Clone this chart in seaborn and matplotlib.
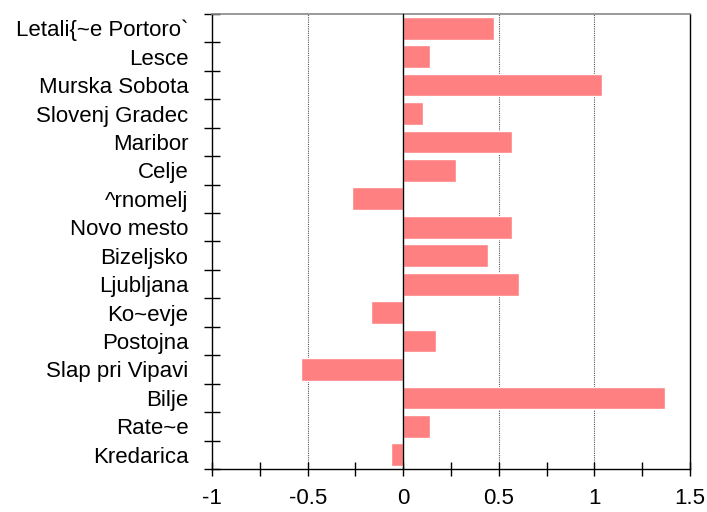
import numpy as np
import pandas as pd
import matplotlib
matplotlib.use('Agg')
import matplotlib.pyplot as plt
import seaborn as sns

stations = ['Letali{~e Portoro`', 'Lesce', 'Murska Sobota', 'Slovenj Gradec',
            'Maribor', 'Celje', '^rnomelj', 'Novo mesto', 'Bizeljsko',
            'Ljubljana', 'Ko~evje', 'Postojna', 'Slap pri Vipavi', 'Bilje',
            'Rate~e', 'Kredarica']
values = [0.477, 0.138, 1.037, 0.106, 0.571, 0.274, -0.27, 0.571, 0.441,
          0.608, -0.166, 0.174, -0.537, 1.371, 0.138, -0.066]

df = pd.DataFrame({'station': stations, 'value': values})

sns.set_style('white')
plt.rcParams['font.family'] = ['Liberation Sans', 'DejaVu Sans']

fig = plt.figure(figsize=(7.07, 5.12), dpi=100)
ax = fig.add_axes([0.2999, 0.084, 0.6761, 0.8887])

sns.barplot(data=df, x='value', y='station', orient='h', color='#ff8080',
            saturation=1, width=0.8, ax=ax)

# grid lines and zero line
for g in [-0.5, 0.5, 1.0]:
    ax.axvline(g, color='#555555', linestyle=(0, (1, 1)), linewidth=0.8, zorder=0)
ax.axvline(0, color='black', linewidth=1.0, zorder=3)

ax.set_xlim(-1, 1.5)
ax.set_ylim(len(stations) - 0.5, -0.5)
ax.set_xticks([-1, -0.5, 0, 0.5, 1, 1.5])
ax.set_xticklabels(['-1', '-0.5', '0', '0.5', '1', '1.5'])
ax.set_xticks(np.arange(-1, 1.51, 0.25), minor=True)
ax.set_yticks(range(len(stations)))
ax.set_yticklabels(stations)
ax.set_yticks(np.arange(-0.5, len(stations), 1.0), minor=True)

ax.tick_params(axis='y', which='major', length=0, pad=17, labelsize=16, labelcolor='black')
ax.tick_params(axis='y', which='minor', left=True, direction='inout', length=12, width=1,
               color='black')
ax.tick_params(axis='x', which='both', bottom=True, direction='inout', length=10, width=1,
               color='black')
ax.tick_params(axis='x', which='major', labelsize=16, pad=9, labelcolor='black')
ax.set_xlabel('')
ax.set_ylabel('')

for s in ['left', 'bottom', 'right']:
    ax.spines[s].set_color('black')
    ax.spines[s].set_linewidth(1)
ax.spines['top'].set_color('#888888')
ax.spines['top'].set_linewidth(1.2)

fig.savefig('out.png', dpi=100)
